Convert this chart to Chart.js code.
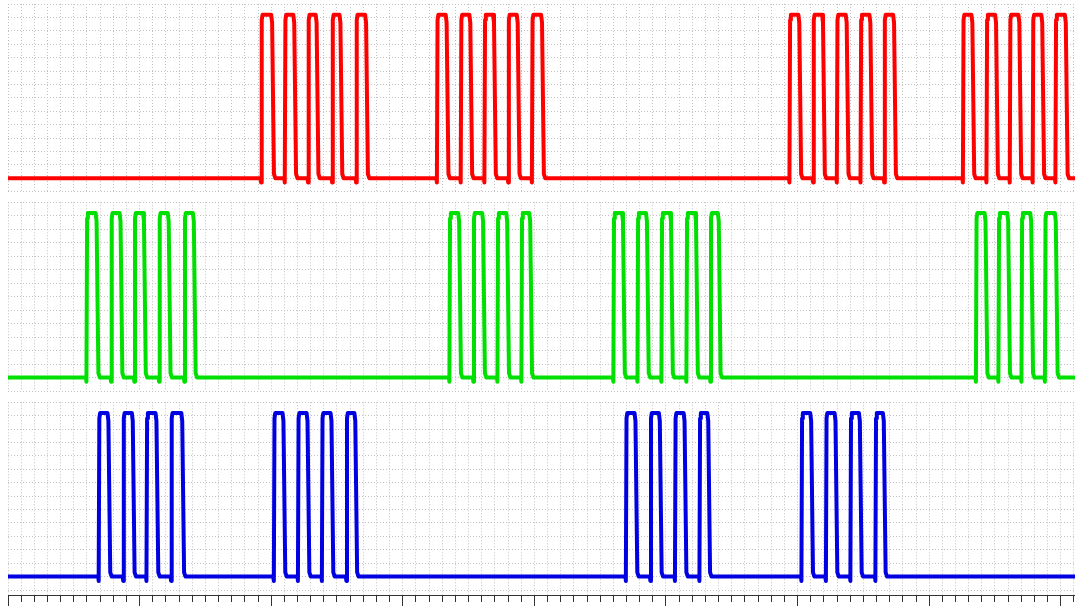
<!DOCTYPE html>
<html>
<head>
<meta charset="utf-8">
<script src="https://cdn.jsdelivr.net/npm/chart.js@4/dist/chart.umd.min.js"></script>
<style>
  html, body { margin: 0; padding: 0; background: #ffffff; }
  body { width: 1075px; height: 607px; position: relative; overflow: hidden; }
  .panel { position: absolute; left: 0; width: 1075px; }
  canvas { display: block; }
</style>
</head>
<body>
<div class="panel" style="top:0;height:200px"><canvas id="ch1" width="1075" height="200"></canvas></div>
<div class="panel" style="top:198px;height:200px"><canvas id="ch2" width="1075" height="200"></canvas></div>
<div class="panel" style="top:398px;height:209px"><canvas id="ch3" width="1075" height="209"></canvas></div>
<script>
// Time axis (ms) and voltage grid
const timeMin = 0;
const timeMax = 81.08;
const timeStep = 1;
const majorEvery = 10;
const voltMin = -0.25;
const voltMax = 3.25;
const voltStep = 0.25;

// Logic levels of the traces (V)
const lowLevel = 0;
const highLevel = 3.05;
const edgeDip = -0.08;

// Channel 1 (red): rising / falling edge times (ms)
const redRise = [19.20, 21.00, 22.77, 24.60, 26.42, 32.56, 34.37, 36.17, 37.98, 39.78,
                 59.35, 61.15, 62.95, 64.75, 66.55, 72.53, 74.32, 76.09, 77.83, 79.56];
const redFall = [20.24, 21.92, 23.62, 25.43, 27.38, 33.50, 35.30, 37.10, 38.90, 40.75,
                 60.30, 62.10, 63.90, 65.70, 67.50, 73.45, 75.25, 77.02, 78.76, 80.55];

// Channel 2 (green)
const greenRise = [5.93, 7.80, 9.57, 11.45, 13.37, 33.51, 35.33, 37.16, 38.98,
                   45.97, 47.80, 49.62, 51.52, 53.34, 73.52, 75.23, 76.98, 78.76];
const greenFall = [6.90, 8.72, 10.50, 12.38, 14.29, 34.45, 36.27, 38.10, 39.85,
                   46.90, 48.72, 50.55, 52.45, 54.18, 74.45, 76.17, 77.92, 79.79];

// Channel 3 (blue)
const blueRise = [6.86, 8.72, 10.49, 12.36, 20.17, 22.00, 23.82, 25.68,
                  46.92, 48.78, 50.65, 52.51, 60.26, 62.12, 63.98, 65.88];
const blueFall = [7.80, 9.65, 11.45, 13.41, 21.10, 22.93, 24.75, 26.56,
                  47.85, 49.70, 51.58, 53.38, 61.20, 63.05, 64.90, 66.72];

// Turn edge times into a trace with slightly slewed edges
function buildTrace(rise, fall) {
  const pts = [{ x: timeMin, y: lowLevel }];
  for (let i = 0; i < rise.length; i++) {
    const r = rise[i], f = fall[i];
    pts.push(
      { x: r, y: lowLevel },
      { x: r + 0.03, y: edgeDip },
      { x: r + 0.08, y: highLevel - 0.1 },
      { x: r + 0.14, y: highLevel },
      { x: f - 0.24, y: highLevel },
      { x: f - 0.17, y: highLevel - 0.15 },
      { x: f - 0.03, y: lowLevel + 0.08 },
      { x: f + 0.08, y: lowLevel }
    );
  }
  pts.push({ x: timeMax, y: lowLevel });
  return pts;
}

const gridColor = '#c2c2c2';
const gridDash = [1, 2];

function makePanel(canvasId, color, rise, fall, padding, yMin, withAxis) {
  return new Chart(document.getElementById(canvasId), {
    type: 'line',
    data: {
      datasets: [{
        data: buildTrace(rise, fall),
        borderColor: color,
        borderWidth: 4,
        pointRadius: 0,
        tension: 0,
        fill: false,
        borderJoinStyle: 'round',
        borderCapStyle: 'round'
      }]
    },
    options: {
      responsive: false,
      animation: false,
      devicePixelRatio: 1,
      layout: { padding: padding },
      plugins: { legend: { display: false }, tooltip: { enabled: false } },
      scales: {
        x: {
          type: 'linear',
          min: timeMin,
          max: timeMax,
          ticks: { display: false, stepSize: timeStep, includeBounds: false },
          grid: {
            color: gridColor,
            lineWidth: 1,
            drawTicks: withAxis,
            tickLength: 11,
            tickColor: '#333333',
            tickWidth: 1,
            tickBorderDash: (ctx) => (ctx.tick && Math.round(ctx.tick.value) % majorEvery === 0) ? [] : [6, 30]
          },
          border: { display: withAxis, color: '#333333', width: 1, dash: gridDash }
        },
        y: {
          type: 'linear',
          min: yMin,
          max: voltMax,
          ticks: { display: false, stepSize: voltStep, includeBounds: false },
          grid: { color: gridColor, lineWidth: 1, drawTicks: false },
          border: { display: false, dash: gridDash }
        }
      }
    }
  });
}

makePanel('ch1', '#ff0000', redRise, redFall, { left: 8, right: 0, top: 4, bottom: 8.3 }, voltMin, false);
makePanel('ch2', '#00e000', greenRise, greenFall, { left: 8, right: 0, top: 4.3, bottom: 7 }, voltMin, false);
makePanel('ch3', '#0000e0', blueRise, blueFall, { left: 8, right: 0, top: 4.3, bottom: 1 }, -0.343, true);
</script>
</body>
</html>
